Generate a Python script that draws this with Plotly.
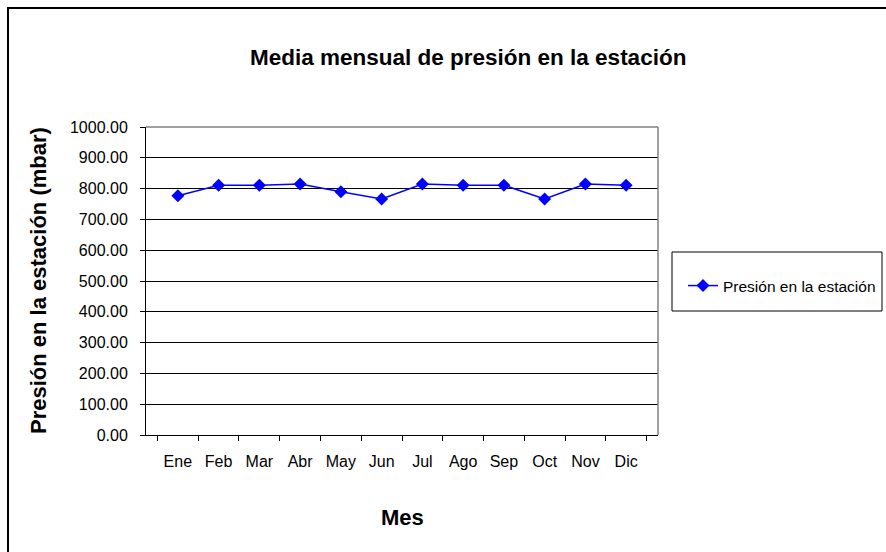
import plotly.graph_objects as go

months = ["Ene", "Feb", "Mar", "Abr", "May", "Jun", "Jul", "Ago", "Sep", "Oct", "Nov", "Dic"]
pressure = [777, 811, 811, 815, 790, 766, 815, 811, 811, 766, 815, 811]
series_name = "Presión en la estación"
y_ticks = [0, 100, 200, 300, 400, 500, 600, 700, 800, 900, 1000]

W, H = 886, 552
L, R, T, B = 146, 658, 127, 435
pw, ph = R - L, B - T

def px(x):
    return (x - L) / pw

def py(y):
    return (B - y) / ph

font = "Liberation Sans, Arial, sans-serif"

fig = go.Figure()
fig.add_trace(go.Scatter(
    x=months, y=pressure, name=series_name, mode="lines+markers",
    line=dict(color="#0000FF", width=1.5),
    marker=dict(symbol="diamond", size=10, color="#0000FF"),
))

fig.update_layout(
    width=W, height=H,
    margin=dict(l=L, r=W - R, t=T, b=H - B, pad=0, autoexpand=False),
    paper_bgcolor="white", plot_bgcolor="white",
    font=dict(family=font, size=16, color="black"),
    showlegend=True,
    legend=dict(x=px(683), y=py(269), xanchor="left", yanchor="top",
                bgcolor="rgba(0,0,0,0)", borderwidth=0,
                font=dict(size=15.5, family=font)),
    xaxis=dict(
        type="category", tickson="boundaries", ticks="outside", ticklen=5,
        tickcolor="black", showline=True, linecolor="black", linewidth=1,
        showgrid=False, tickfont=dict(size=16), zeroline=False,
        ticklabelstandoff=12, automargin=False,
    ),
    yaxis=dict(
        range=[0, 1000], tickvals=y_ticks, tickformat=".2f", ticks="outside",
        ticklen=5, tickcolor="black", showline=True, linecolor="black",
        linewidth=1, showgrid=True, gridcolor="black", gridwidth=1,
        zeroline=False, tickfont=dict(size=16), ticklabelstandoff=9,
        automargin=False,
    ),
)

shapes = [
    # outer chart border
    dict(type="rect", xref="paper", yref="paper", x0=px(8), x1=px(900),
         y0=py(570), y1=py(8), line=dict(color="black", width=2), layer="below"),
    # gray plot border top/right
    dict(type="line", xref="paper", yref="paper", x0=0, x1=1, y0=1, y1=1,
         line=dict(color="#808080", width=1.5), layer="above"),
    dict(type="line", xref="paper", yref="paper", x0=1, x1=1, y0=0, y1=1,
         line=dict(color="#808080", width=1.5), layer="above"),
    # legend box
    dict(type="rect", xref="paper", yref="paper", x0=px(672), x1=px(882),
         y0=py(311), y1=py(252), line=dict(color="black", width=1), layer="above"),
]
fig.update_layout(shapes=shapes)

annotations = [
    dict(text="<b>Media mensual de presión en la estación</b>", xref="paper", yref="paper",
         x=px(468), y=py(57), xanchor="center", yanchor="middle", showarrow=False,
         font=dict(size=22.5, family=font)),
    dict(text="<b>Presión en la estación (mbar)</b>", xref="paper", yref="paper",
         x=px(38), y=py(281), xanchor="center", yanchor="middle", showarrow=False,
         textangle=-90, font=dict(size=22, family=font)),
    dict(text="<b>Mes</b>", xref="paper", yref="paper",
         x=px(402), y=py(517), xanchor="center", yanchor="middle", showarrow=False,
         font=dict(size=22, family=font)),
]
fig.update_layout(annotations=annotations)

fig.write_html("out.html", config={"displayModeBar": False},
               post_script="document.body.style.margin='0px';")
